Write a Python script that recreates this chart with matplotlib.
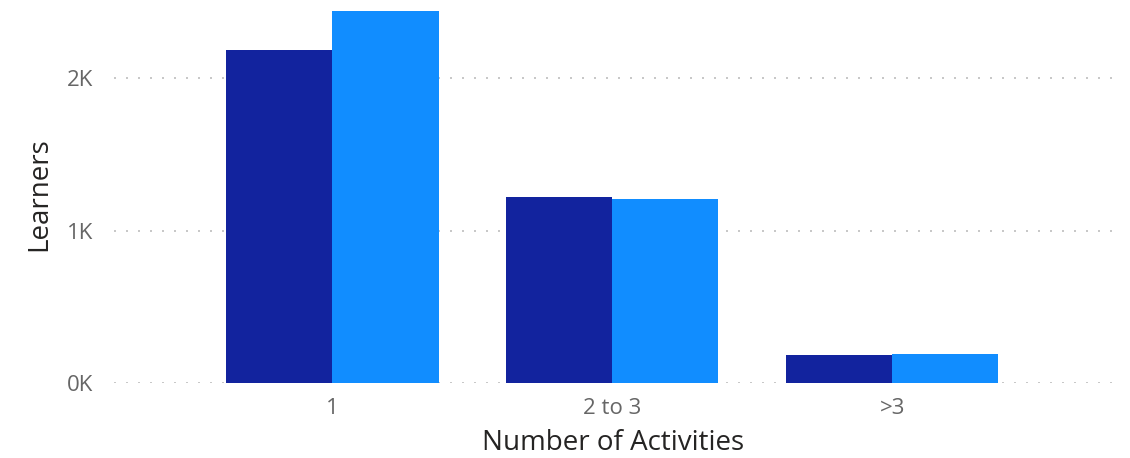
import matplotlib
matplotlib.use("Agg")
import matplotlib.pyplot as plt
import numpy as np

categories = ["1", "2 to 3", ">3"]
series_a = [2187, 1221, 184]   # dark blue
series_b = [2443, 1208, 190]   # light blue
y_ticks = [0, 1000, 2000]
y_tick_labels = ["0K", "1K", "2K"]

W, H = 1130, 458
fig = plt.figure(figsize=(W / 100, H / 100), dpi=100)
left, right, bottom_px, top_px = 114, 1113, 383, 5
ax = fig.add_axes([left / W, (H - bottom_px) / H, (right - left) / W, (bottom_px - top_px) / H])

font = "Open Sans"
x = np.arange(len(categories))
bw = 0.38
ax.bar(x - bw / 2, series_a, width=bw, color="#12239E", zorder=3, label="Series A")
ax.bar(x + bw / 2, series_b, width=bw, color="#118DFF", zorder=3, label="Series B")

ax.set_xlim(-0.779, 2.789)
ax.set_ylim(0, (bottom_px - top_px) / 152.3 * 1000)
ax.set_yticks(y_ticks)
ax.set_yticklabels(y_tick_labels, family=font, fontsize=16, color="#666666")
ax.set_xticks(x)
ax.set_xticklabels(categories, family=font, fontsize=16, color="#666666")
ax.tick_params(axis="both", length=0)
ax.tick_params(axis="y", pad=15)
ax.tick_params(axis="x", pad=11)
ax.yaxis.grid(True, color="#C8C8C8", linestyle=(0, (1, 5)), linewidth=1.44, zorder=0)
ax.xaxis.grid(False)
for s in ax.spines.values():
    s.set_visible(False)

ax.set_xlabel("Number of Activities", family=font, fontsize=20, color="#252423", labelpad=7)
ax.set_ylabel("Learners", family=font, fontsize=20, color="#252423", labelpad=10)

fig.savefig("out.png", dpi=100, facecolor="white")
